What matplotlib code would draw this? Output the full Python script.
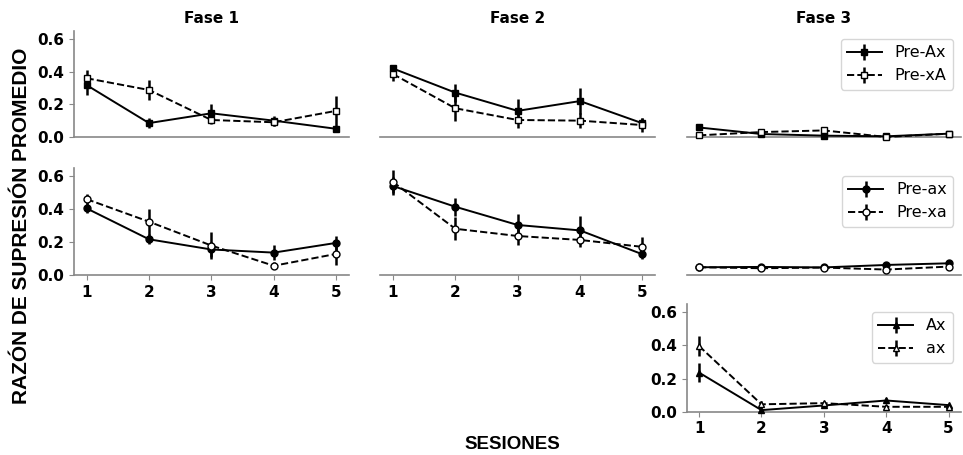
import matplotlib
matplotlib.use("Agg")
import matplotlib.pyplot as plt
import numpy as np

plt.rcParams['font.family'] = ['DejaVu Sans']

sesiones = [1, 2, 3, 4, 5]
fases = ['Fase 1', 'Fase 2', 'Fase 3']

# fila 1: Pre-Ax / Pre-xA (cuadrados)
pre_Ax = [[0.318, 0.085, 0.145, 0.100, 0.050],
          [0.420, 0.272, 0.160, 0.220, 0.084],
          [0.058, 0.018, 0.008, 0.004, 0.020]]
pre_Ax_err = [[0.060, 0.030, 0.060, 0.030, 0.012],
              [0.012, 0.055, 0.070, 0.080, 0.035],
              [0.015, 0.008, 0.008, 0.005, 0.008]]
pre_xA = [[0.360, 0.288, 0.104, 0.090, 0.160],
          [0.386, 0.176, 0.104, 0.100, 0.073],
          [0.010, 0.030, 0.040, 0.000, 0.020]]
pre_xA_err = [[0.050, 0.060, 0.025, 0.020, 0.090],
              [0.045, 0.080, 0.050, 0.045, 0.045],
              [0.006, 0.010, 0.015, 0.005, 0.008]]

# fila 2: Pre-ax / Pre-xa (circulos)
pre_ax = [[0.404, 0.216, 0.154, 0.135, 0.194],
          [0.540, 0.414, 0.303, 0.270, 0.125],
          [0.046, 0.048, 0.045, 0.060, 0.070]]
pre_ax_err = [[0.030, 0.030, 0.045, 0.045, 0.045],
              [0.055, 0.056, 0.065, 0.085, 0.030],
              [0.006, 0.008, 0.006, 0.010, 0.012]]
pre_xa = [[0.460, 0.323, 0.178, 0.055, 0.127],
          [0.565, 0.280, 0.236, 0.212, 0.170],
          [0.046, 0.040, 0.044, 0.032, 0.050]]
pre_xa_err = [[0.030, 0.080, 0.080, 0.020, 0.065],
              [0.070, 0.070, 0.055, 0.045, 0.060],
              [0.006, 0.006, 0.006, 0.008, 0.008]]

# fila 3 (solo Fase 3): Ax / ax (triangulos)
Ax = [0.236, 0.010, 0.038, 0.068, 0.040]
Ax_err = [0.055, 0.015, 0.012, 0.015, 0.008]
ax_ = [0.396, 0.045, 0.052, 0.030, 0.030]
ax_err = [0.060, 0.020, 0.015, 0.010, 0.008]

GRIS = '#888888'


def dibujar(ax, y1, e1, y2, e2, marker, lab1, lab2):
    ax.errorbar(sesiones, y1, yerr=e1, fmt='-', marker=marker, color='k',
                mfc='k', mec='k', ms=5, lw=1.4, elinewidth=1.8, capsize=0,
                label=lab1, clip_on=False, zorder=3)
    ax.errorbar(sesiones, y2, yerr=e2, fmt='--', marker=marker, color='k',
                mfc='white', mec='k', ms=5, lw=1.4, elinewidth=1.8, capsize=0,
                label=lab2, clip_on=False, zorder=3)


def estilo(ax, show_y, show_x_ticks, show_x_labels):
    ax.set_xlim(0.8, 5.2)
    ax.set_ylim(0, 0.65)
    ax.spines['top'].set_visible(False)
    ax.spines['right'].set_visible(False)
    ax.spines['bottom'].set_color(GRIS)
    ax.spines['left'].set_color(GRIS)
    ax.spines['bottom'].set_linewidth(1.2)
    ax.spines['left'].set_linewidth(1.2)
    ax.set_xticks(sesiones)
    ax.set_yticks([0.0, 0.2, 0.4, 0.6])
    ax.tick_params(colors=GRIS, labelcolor='k', labelsize=11)
    for t in ax.get_xticklabels() + ax.get_yticklabels():
        t.set_fontweight('bold')
    if not show_y:
        ax.spines['left'].set_visible(False)
        ax.tick_params(axis='y', left=False, labelleft=False)
    if not show_x_ticks:
        ax.tick_params(axis='x', bottom=False)
    if not show_x_labels:
        ax.tick_params(axis='x', labelbottom=False)


fig = plt.figure(figsize=(9.63, 4.55), dpi=100)

lefts = [0.077, 0.395, 0.713]
width = 0.285
rows = [(0.699, 0.233), (0.396, 0.235), (0.095, 0.237)]

for c in range(3):
    # fila 1
    a = fig.add_axes([lefts[c], rows[0][0], width, rows[0][1]])
    dibujar(a, pre_Ax[c], pre_Ax_err[c], pre_xA[c], pre_xA_err[c], 's', 'Pre-Ax', 'Pre-xA')
    estilo(a, c == 0, False, False)
    a.set_title(fases[c], fontsize=11, fontweight='bold', pad=6)
    if c == 2:
        a.legend(loc='upper right', fontsize=11.5, handlelength=2.2)

    # fila 2
    a = fig.add_axes([lefts[c], rows[1][0], width, rows[1][1]])
    dibujar(a, pre_ax[c], pre_ax_err[c], pre_xa[c], pre_xa_err[c], 'o', 'Pre-ax', 'Pre-xa')
    estilo(a, c == 0, c < 2, c < 2)
    if c == 2:
        a.legend(loc='upper right', fontsize=11.5, handlelength=2.2)

# fila 3
a = fig.add_axes([lefts[2], rows[2][0], width, rows[2][1]])
dibujar(a, Ax, Ax_err, ax_, ax_err, '^', 'Ax', 'ax')
estilo(a, True, True, True)
a.legend(loc='upper right', fontsize=11.5, handlelength=2.2)

fig.text(0.022, 0.503, 'RAZÓN DE SUPRESIÓN PROMEDIO', rotation=90, ha='center',
         va='center', fontsize=15, fontweight='bold', family='Liberation Sans')
fig.text(0.532, 0.022, 'SESIONES', ha='center', va='center', fontsize=13.5,
         fontweight='bold', family='Liberation Sans')

fig.savefig('out.png', dpi=100)
